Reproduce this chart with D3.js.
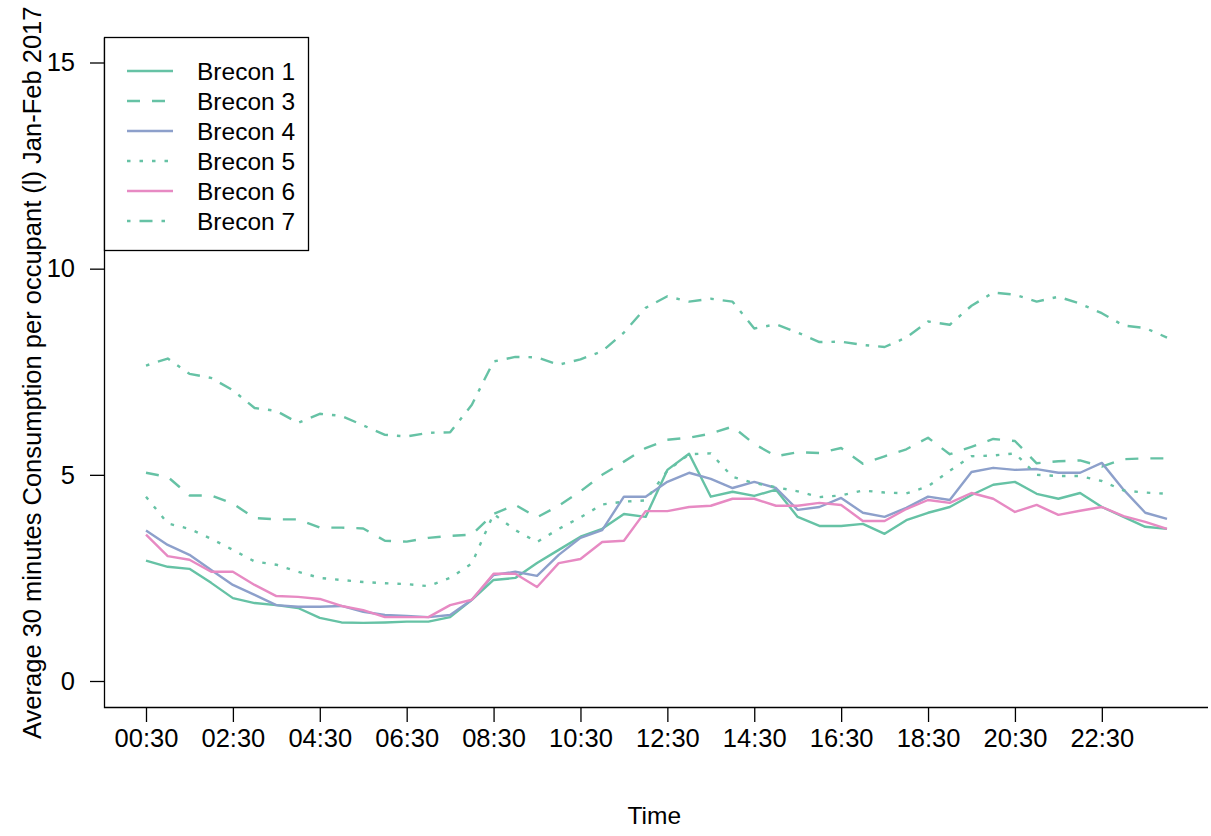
<!DOCTYPE html>
<html>
<head>
<meta charset="utf-8">
<script src="https://cdn.jsdelivr.net/npm/d3@7"></script>
<style>
  html, body { margin: 0; padding: 0; background: #fff; }
  svg text { font-family: "Liberation Sans", Arial, sans-serif; fill: #000; }
</style>
</head>
<body>
<svg id="chart" width="1211" height="836"></svg>
<script>
// Half-hourly time slots, 00:30 through 24:00
const times = d3.range(48).map(i => {
  const m = (i + 1) * 30;
  return String(Math.floor(m / 60)).padStart(2, "0") + ":" + String(m % 60).padStart(2, "0");
});
const xTickLabels = ["00:30", "02:30", "04:30", "06:30", "08:30", "10:30",
                     "12:30", "14:30", "16:30", "18:30", "20:30", "22:30"];
const yTicks = [0, 5, 10, 15];

const seriesNames = ["Brecon 1", "Brecon 3", "Brecon 4", "Brecon 5", "Brecon 6", "Brecon 7"];

// Average litres per occupant for each half hour
const brecon1 = [2.92, 2.77, 2.72, 2.38, 2.01, 1.89, 1.84, 1.77, 1.53, 1.42, 1.41, 1.42,
                 1.44, 1.44, 1.55, 1.97, 2.45, 2.50, 2.86, 3.18, 3.50, 3.69, 4.05, 3.98,
                 5.12, 5.51, 4.47, 4.59, 4.49, 4.64, 3.98, 3.76, 3.76, 3.81, 3.57, 3.90,
                 4.08, 4.22, 4.51, 4.76, 4.83, 4.54, 4.42, 4.56, 4.22, 3.98, 3.74, 3.69];
const brecon3 = [5.05, 4.95, 4.50, 4.50, 4.30, 3.95, 3.92, 3.92, 3.72, 3.72, 3.70, 3.40,
                 3.38, 3.47, 3.52, 3.55, 4.05, 4.27, 3.97, 4.25, 4.60, 5.00, 5.32, 5.65,
                 5.85, 5.90, 6.00, 6.17, 5.75, 5.45, 5.55, 5.53, 5.65, 5.27, 5.45, 5.62,
                 5.90, 5.50, 5.68, 5.87, 5.82, 5.28, 5.33, 5.35, 5.20, 5.38, 5.40, 5.40];
const brecon4 = [3.65, 3.30, 3.06, 2.69, 2.33, 2.09, 1.84, 1.80, 1.80, 1.82, 1.68, 1.60,
                 1.58, 1.55, 1.60, 1.97, 2.57, 2.65, 2.55, 3.06, 3.47, 3.66, 4.47, 4.47,
                 4.83, 5.05, 4.90, 4.68, 4.83, 4.68, 4.15, 4.22, 4.44, 4.08, 3.98, 4.20,
                 4.47, 4.39, 5.07, 5.17, 5.12, 5.14, 5.05, 5.05, 5.29, 4.64, 4.08, 3.93];
const brecon5 = [4.47, 3.82, 3.69, 3.45, 3.18, 2.90, 2.82, 2.65, 2.50, 2.45, 2.40, 2.37,
                 2.35, 2.30, 2.50, 2.85, 4.05, 3.66, 3.37, 3.69, 3.97, 4.28, 4.35, 4.38,
                 5.10, 5.50, 5.52, 4.95, 4.80, 4.70, 4.60, 4.46, 4.50, 4.62, 4.57, 4.55,
                 4.72, 5.10, 5.45, 5.47, 5.52, 5.00, 4.97, 4.97, 4.85, 4.62, 4.57, 4.54];
const brecon6 = [3.55, 3.03, 2.94, 2.65, 2.65, 2.33, 2.06, 2.04, 1.99, 1.82, 1.72, 1.55,
                 1.55, 1.55, 1.84, 1.97, 2.60, 2.60, 2.28, 2.86, 2.96, 3.37, 3.40, 4.12,
                 4.12, 4.22, 4.25, 4.42, 4.42, 4.25, 4.25, 4.32, 4.27, 3.88, 3.88, 4.17,
                 4.39, 4.32, 4.56, 4.42, 4.10, 4.27, 4.03, 4.13, 4.22, 4.00, 3.86, 3.69];
const brecon7 = [7.65, 7.82, 7.45, 7.35, 7.05, 6.62, 6.55, 6.26, 6.48, 6.43, 6.20, 5.97,
                 5.93, 6.02, 6.03, 6.70, 7.75, 7.86, 7.85, 7.67, 7.80, 8.00, 8.45, 9.05,
                 9.33, 9.20, 9.27, 9.20, 8.55, 8.65, 8.45, 8.22, 8.23, 8.15, 8.10, 8.33,
                 8.72, 8.64, 9.10, 9.42, 9.37, 9.20, 9.32, 9.15, 8.92, 8.62, 8.56, 8.33];

const seriesValues = [brecon1, brecon3, brecon4, brecon5, brecon6, brecon7];
const seriesColors = ["#66C2A5", "#66C2A5", "#8DA0CB", "#66C2A5", "#E78AC3", "#66C2A5"];
const seriesDash = [null, "13,12", null, "3.5,9", null, "3.5,9,13,9"];

const svg = d3.select("#chart");
const fontSize = 24.5;
const tickFontSize = 25.5;
const lineWidth = 2.4;

// Plot region (L-shaped frame on left and bottom)
const plot = { left: 104.5, right: 1208, top: 38, bottom: 707.5 };

const x = d3.scaleLinear().domain([0, 47]).range([146, 1167]);
const y = d3.scaleLinear().domain([0, 15]).range([681, 62.5]);

// Frame
svg.append("path")
  .attr("d", `M${plot.left},${plot.top}V${plot.bottom}H${plot.right}`)
  .attr("fill", "none").attr("stroke", "#000").attr("stroke-width", 1.3);

// X axis
const tickIdx = xTickLabels.map(l => times.indexOf(l));
const xAxis = d3.axisBottom(x)
  .tickValues(tickIdx)
  .tickFormat(i => times[i])
  .tickSize(14.5)
  .tickPadding(7);
const gx = svg.append("g").attr("transform", `translate(0,${plot.bottom})`).call(xAxis);
gx.select(".domain").remove();
gx.selectAll(".tick line").attr("stroke", "#000").attr("stroke-width", 1.3);
gx.selectAll(".tick text")
  .attr("font-size", tickFontSize)
  .attr("font-family", "Liberation Sans, Arial, sans-serif")
  .attr("fill", "#000");

// Y axis
const yAxis = d3.axisLeft(y)
  .tickValues(yTicks)
  .tickFormat(d3.format("d"))
  .tickSize(14.5)
  .tickPadding(15);
const gy = svg.append("g").attr("transform", `translate(${plot.left},0)`).call(yAxis);
gy.select(".domain").remove();
gy.selectAll(".tick line").attr("stroke", "#000").attr("stroke-width", 1.3);
gy.selectAll(".tick text")
  .attr("font-size", tickFontSize)
  .attr("font-family", "Liberation Sans, Arial, sans-serif")
  .attr("fill", "#000");

// Axis titles
svg.append("text")
  .attr("x", (plot.left + plot.right) / 2 - 2)
  .attr("y", 824)
  .attr("text-anchor", "middle")
  .attr("font-size", fontSize)
  .text("Time");

svg.append("text")
  .attr("transform", `translate(40.5,${(plot.top + plot.bottom) / 2}) rotate(-90)`)
  .attr("text-anchor", "middle")
  .attr("font-size", 25.5)
  .text("Average 30 minutes Consumption per occupant (l) Jan-Feb 2017");

// Series lines
const line = d3.line().x((d, i) => x(i)).y(d => y(d));
seriesValues.forEach((vals, k) => {
  svg.append("path")
    .datum(vals)
    .attr("d", line)
    .attr("fill", "none")
    .attr("stroke", seriesColors[k])
    .attr("stroke-width", lineWidth)
    .attr("stroke-linejoin", "round")
    .attr("stroke-dasharray", seriesDash[k]);
});

// Legend
const legend = svg.append("g");
legend.append("rect")
  .attr("x", 104.5).attr("y", 37.5)
  .attr("width", 204).attr("height", 213)
  .attr("fill", "#fff").attr("stroke", "#000").attr("stroke-width", 1.3);
seriesNames.forEach((name, k) => {
  const ry = 71 + k * 30;
  legend.append("line")
    .attr("x1", 127).attr("x2", 173)
    .attr("y1", ry).attr("y2", ry)
    .attr("stroke", seriesColors[k])
    .attr("stroke-width", lineWidth)
    .attr("stroke-dasharray", seriesDash[k]);
  legend.append("text")
    .attr("x", 197).attr("y", ry)
    .attr("dy", "0.36em")
    .attr("font-size", fontSize)
    .text(name);
});
</script>
</body>
</html>
